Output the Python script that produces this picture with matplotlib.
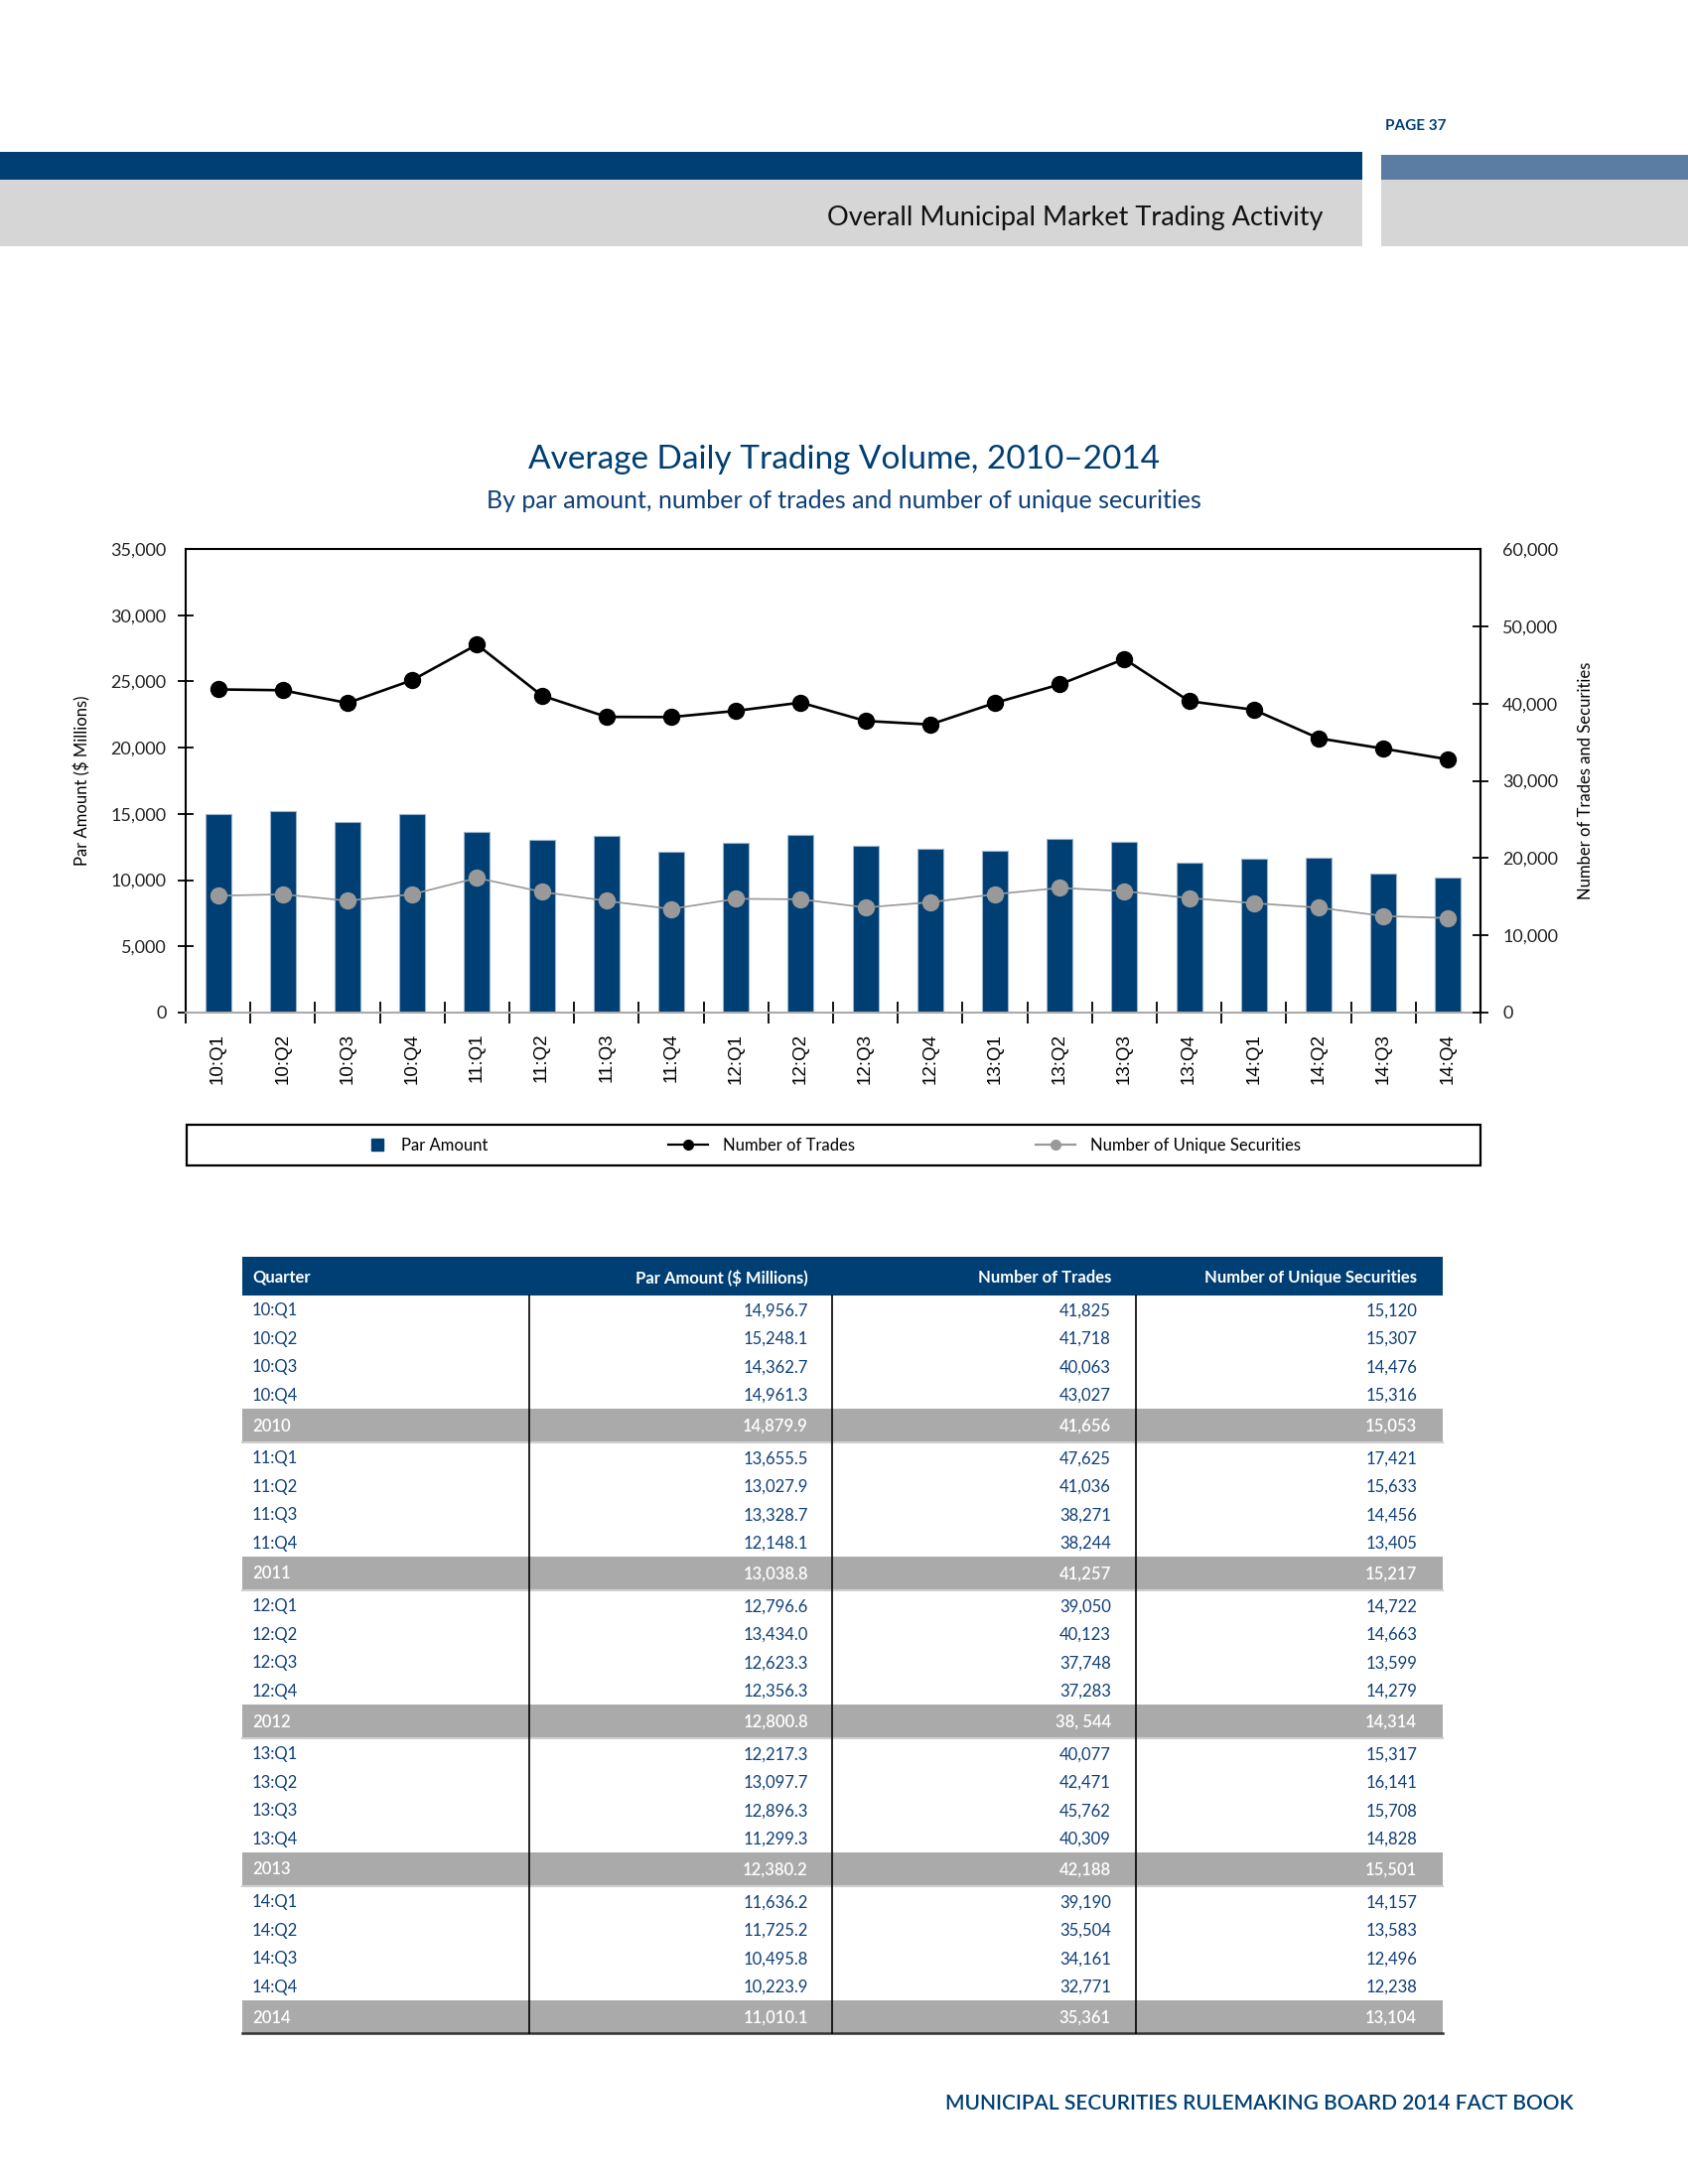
import matplotlib
matplotlib.use("Agg")
import matplotlib.pyplot as plt
from matplotlib.lines import Line2D
from matplotlib.patches import Rectangle
import numpy as np

plt.rcParams['font.family'] = ['Lato', 'DejaVu Sans']

quarters = ['10:Q1', '10:Q2', '10:Q3', '10:Q4', '11:Q1', '11:Q2', '11:Q3', '11:Q4',
            '12:Q1', '12:Q2', '12:Q3', '12:Q4', '13:Q1', '13:Q2', '13:Q3', '13:Q4',
            '14:Q1', '14:Q2', '14:Q3', '14:Q4']
par_amount = [14956.7, 15248.1, 14362.7, 14961.3, 13655.5, 13027.9, 13328.7, 12148.1,
              12796.6, 13434.0, 12623.3, 12356.3, 12217.3, 13097.7, 12896.3, 11299.3,
              11636.2, 11725.2, 10495.8, 10223.9]
num_trades = [41825, 41718, 40063, 43027, 47625, 41036, 38271, 38244,
              39050, 40123, 37748, 37283, 40077, 42471, 45762, 40309,
              39190, 35504, 34161, 32771]
num_unique = [15120, 15307, 14476, 15316, 17421, 15633, 14456, 13405,
              14722, 14663, 13599, 14279, 15317, 16141, 15708, 14828,
              14157, 13583, 12496, 12238]
years = ['2010', '2011', '2012', '2013', '2014']
year_par = ['14,879.9', '13,038.8', '12,800.8', '12,380.2', '11,010.1']
year_trades = ['41,656', '41,257', '38, 544', '42,188', '35,361']
year_unique = ['15,053', '15,217', '14,314', '15,501', '13,104']

NAVY = '#003f73'
STEEL = '#5b7ca3'
BAND = '#d6d6d6'
TXT = '#0f3f78'
W, H = 1700, 2200

fig = plt.figure(figsize=(17, 22), dpi=100)

# page overlay in pixel coords
ov = fig.add_axes([0, 0, 1, 1], zorder=0)
ov.set_xlim(0, W)
ov.set_ylim(H, 0)
ov.axis('off')

ov.add_patch(Rectangle((0, 153), 1372, 28, color=NAVY, lw=0))
ov.add_patch(Rectangle((1391, 156), 309, 25, color=STEEL, lw=0))
ov.add_patch(Rectangle((0, 181), 1372, 67, color=BAND, lw=0))
ov.add_patch(Rectangle((1391, 181), 309, 67, color=BAND, lw=0))
ov.text(1395, 127, 'PAGE 37', color=NAVY, fontsize=11, fontweight='bold',
        ha='left', va='center')
ov.text(1333, 220, 'Overall Municipal Market Trading Activity', color='#111111',
        fontsize=19.5, ha='right', va='center')

ov.text(850, 463, 'Average Daily Trading Volume, 2010\u20132014', color=NAVY,
        fontsize=24, ha='center', va='center')
ov.text(850, 505, 'By par amount, number of trades and number of unique securities',
        color=TXT, fontsize=18, ha='center', va='center')

# chart
L, R, T, B = 187, 1491, 553, 1020
ax = fig.add_axes([L / W, 1 - B / H, (R - L) / W, (B - T) / H], zorder=2)
x = np.arange(len(quarters))
ax.bar(x, par_amount, width=0.4, color=NAVY, edgecolor='#9db3cc', linewidth=0.8, zorder=2)
ax.set_xlim(-0.5, len(quarters) - 0.5)
ax.set_ylim(0, 35000)
ax.set_yticks(np.arange(0, 35001, 5000))
ax.set_yticklabels([f'{v:,}' for v in range(0, 35001, 5000)])
ax.set_xticks(x)
ax.set_xticklabels(quarters, rotation=90, fontfamily='Liberation Sans', fontsize=13.5)
ax.set_xticks(np.arange(-0.5, len(quarters)), minor=True)
ax.tick_params(axis='x', which='major', length=0, pad=15)
ax.tick_params(axis='x', which='minor', direction='inout', length=16, width=1.3, color='black')
ax.tick_params(axis='y', direction='inout', length=12, width=1.3, labelsize=13, pad=8,
               labelcolor='#222222')
ax.set_ylabel('Par Amount ($ Millions)', fontsize=12, labelpad=14)
for s in ['left', 'top', 'right']:
    ax.spines[s].set_linewidth(1.5)
    ax.spines[s].set_color('black')
ax.spines['bottom'].set_color('#aaaaaa')
ax.spines['bottom'].set_linewidth(1.5)

ax2 = ax.twinx()
ax2.plot(x, num_trades, color='black', lw=1.9, marker='o', markersize=11.5, zorder=4)
ax2.plot(x, num_unique, color='#999999', lw=1.2, marker='o', markersize=11.5, zorder=3)
ax2.set_ylim(0, 60000)
ax2.set_yticks(np.arange(0, 60001, 10000))
ax2.set_yticklabels([f'{v:,}' for v in range(0, 60001, 10000)])
ax2.tick_params(axis='y', direction='inout', length=12, width=1.3, labelsize=13, pad=10,
                labelcolor='#222222')
ax2.set_ylabel('Number of Trades and Securities', fontsize=12, labelpad=14)
ax2.spines['right'].set_linewidth(1.5)
for s in ['left', 'top', 'bottom']:
    ax2.spines[s].set_visible(False)
for t in ax.yaxis.get_major_ticks()[-1:] + ax2.yaxis.get_major_ticks()[-1:]:
    t.tick1line.set_visible(False)
    t.tick2line.set_visible(False)

# legend box
ov.add_patch(Rectangle((188, 1133), 1303, 41, fill=False, ec='black', lw=1.6))
handles = [
    Line2D([], [], color=NAVY, marker='s', ls='none', markersize=8),
    Line2D([], [], color='black', marker='o', lw=1.6, markersize=7),
    Line2D([], [], color='#999999', marker='o', lw=1.6, markersize=7),
]
labels = ['Par Amount', 'Number of Trades', 'Number of Unique Securities']
starts = [372, 673, 1043]
hlens = [1.0, 2.4, 2.4]
for h, lab, xs, hl in zip(handles, labels, starts, hlens):
    fig.legend([h], [lab], loc='center left', bbox_to_anchor=(xs / W, 1 - 1154 / H),
               frameon=False, fontsize=12, handlelength=hl, handletextpad=0.9,
               borderpad=0, borderaxespad=0)

# table
TL, TR = 244, 1453
cols = [(254, 'left'), (814, 'right'), (1119, 'right'), (1427, 'right')]
dividers = [533, 838, 1144]
ov.add_patch(Rectangle((TL, 1266), TR - TL, 39, color=NAVY, lw=0))
heads = ['Quarter', 'Par Amount ($ Millions)', 'Number of Trades', 'Number of Unique Securities']
for (cx, ha), hd in zip(cols, heads):
    ov.text(cx, 1287, hd, color='white', fontsize=12, fontweight='bold', ha=ha, va='center')

y = 1305
qh, yh = 28.5, 33
for i, yr in enumerate(years):
    for j in range(4):
        k = i * 4 + j
        cy = y + qh / 2
        vals = [quarters[k], f'{par_amount[k]:,.1f}', f'{num_trades[k]:,}', f'{num_unique[k]:,}']
        for (cx, ha), v in zip(cols, vals):
            ov.text(cx, cy + 1, v, color=TXT, fontsize=12, ha=ha, va='center')
        y += qh
    ov.add_patch(Rectangle((TL, y), TR - TL, yh, color='#aaaaaa', lw=0))
    cy = y + yh / 2
    vals = [yr, year_par[i], year_trades[i], year_unique[i]]
    for (cx, ha), v in zip(cols, vals):
        ov.text(cx, cy + 1, v, color='white', fontsize=12, fontweight='semibold', ha=ha, va='center')
    y += yh
    if i < len(years) - 1:
        ov.plot([TL, TR], [y + 1, y + 1], color='#d0d0d0', lw=1.5)
        y += 2
    else:
        ov.plot([TL, TR], [y, y], color='#333333', lw=1.8)

for dx in dividers:
    ov.plot([dx, dx], [1305, y], color='black', lw=1.2)

ov.text(1585, 2119, 'MUNICIPAL SECURITIES RULEMAKING BOARD 2014 FACT BOOK', color=NAVY,
        fontsize=15, fontweight='semibold', ha='right', va='center')

fig.savefig('out.png', dpi=100)
